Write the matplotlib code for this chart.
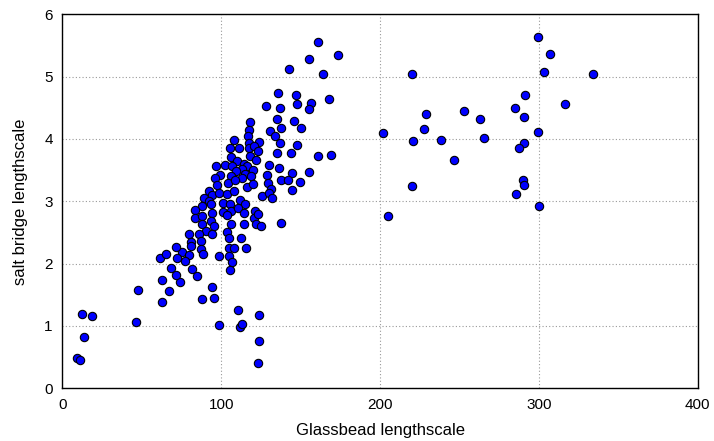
import matplotlib
matplotlib.use("Agg")
import matplotlib.pyplot as plt

# Glassbead lengthscale (x) and salt bridge lengthscale (y)
glassbead = [
    161.1, 173.5, 155.5, 142.9, 163.9, 135.5, 147.1, 168.1, 128.0, 137.2, 147.5, 156.5, 155.1,
    118.1, 135.1, 146.0, 117.5, 130.7, 137.4, 150.0, 116.9, 108.0, 133.6, 117.3, 124.0, 105.3,
    111.0, 136.8, 147.9, 117.7, 120.4, 123.4, 134.9, 144.1, 161.1, 169.3, 105.9, 118.1, 121.9,
    110.1, 114.5, 96.5, 102.2, 106.6, 116.0, 129.9, 136.4, 113.1, 119.8, 109.3, 115.0, 99.0,
    106.1, 129.0, 144.4, 155.5, 96.1, 113.3, 118.7, 129.7, 137.6, 142.3, 149.6, 97.1, 104.5,
    108.9, 116.4, 120.0, 144.8, 131.1, 92.1, 94.2, 98.6, 103.4, 108.2, 125.7, 130.1, 131.8,
    89.4, 92.5, 87.7, 93.3, 101.3, 105.7, 111.8, 115.2, 83.3, 94.2, 101.1, 105.9, 110.3, 114.5,
    121.5, 83.3, 87.7, 103.4, 120.6, 123.4, 88.1, 93.3, 105.9, 114.1, 122.1, 125.0, 137.9,
    90.1, 95.4, 79.9, 86.0, 93.9, 103.4, 104.7, 112.2, 80.9, 87.0, 80.9, 87.5, 104.7, 108.0,
    115.8, 75.3, 79.9, 88.3, 98.8, 104.7, 77.4, 107.0, 105.5, 81.8, 84.5, 74.0, 94.0, 87.7,
    95.7, 110.3, 123.8, 98.4, 111.8, 113.3, 123.8, 123.1,
    71.8, 61.3, 65.1, 72.2, 68.6, 71.4, 62.8, 47.4, 66.8, 62.8, 46.2, 12.4, 18.5, 13.6, 9.2, 10.9,
    299.2, 306.8, 303.4, 333.9, 220.0, 291.0, 316.2, 284.7, 290.8, 252.8, 228.9, 263.1, 227.6,
    299.2, 202.0, 220.9, 238.7, 265.2, 290.6, 287.5, 246.9, 290.2, 290.4, 220.3, 285.8, 300.0,
    205.2,
]
saltbridge = [
    5.55, 5.35, 5.28, 5.13, 5.04, 4.73, 4.71, 4.64, 4.53, 4.50, 4.56, 4.57, 4.48,
    4.28, 4.32, 4.29, 4.15, 4.13, 4.17, 4.17, 4.04, 3.99, 4.04, 3.94, 3.95, 3.86,
    3.86, 3.93, 3.90, 3.85, 3.88, 3.80, 3.77, 3.77, 3.73, 3.74, 3.71, 3.73, 3.67,
    3.65, 3.60, 3.57, 3.58, 3.56, 3.56, 3.59, 3.53, 3.52, 3.51, 3.48, 3.44, 3.42,
    3.41, 3.42, 3.45, 3.47, 3.37, 3.37, 3.41, 3.30, 3.34, 3.35, 3.31, 3.26, 3.29,
    3.35, 3.23, 3.27, 3.18, 3.19, 3.17, 3.10, 3.14, 3.11, 3.16, 3.09, 3.13, 3.05,
    3.06, 3.00, 2.93, 2.95, 2.97, 2.95, 3.02, 2.95, 2.86, 2.82, 2.83, 2.84, 2.89, 2.81,
    2.84, 2.73, 2.77, 2.78, 2.74, 2.80, 2.64, 2.69, 2.64, 2.64, 2.63, 2.61, 2.65,
    2.52, 2.60, 2.47, 2.48, 2.47, 2.51, 2.41, 2.41, 2.34, 2.36, 2.28, 2.23, 2.25, 2.25,
    2.25, 2.18, 2.14, 2.16, 2.13, 2.12, 2.04, 2.02, 1.90, 1.91, 1.80, 1.70, 1.63, 1.43,
    1.45, 1.26, 1.18, 1.02, 0.98, 1.03, 0.76, 0.40,
    2.27, 2.09, 2.15, 2.09, 1.93, 1.81, 1.74, 1.58, 1.56, 1.39, 1.06, 1.19, 1.16, 0.83, 0.49, 0.45,
    5.63, 5.36, 5.07, 5.04, 5.05, 4.71, 4.56, 4.49, 4.36, 4.45, 4.40, 4.32, 4.16,
    4.12, 4.10, 3.96, 3.99, 4.01, 3.94, 3.86, 3.67, 3.35, 3.26, 3.25, 3.12, 2.93,
    2.76,
]
x_ticks = [0, 100, 200, 300, 400]
y_ticks = [0, 1, 2, 3, 4, 5, 6]

plt.rcParams['font.family'] = ['Liberation Sans', 'DejaVu Sans']

fig = plt.figure(figsize=(7.14, 4.41), dpi=100)
ax = fig.add_axes([0.0875, 0.1195, 0.8895, 0.848])

ax.scatter(glassbead, saltbridge, s=36, c='#0000FF', edgecolors='black',
           linewidths=0.8, zorder=3)

ax.set_xlim(0, 400)
ax.set_ylim(0, 6)
ax.set_xticks(x_ticks)
ax.set_yticks(y_ticks)
ax.grid(True, linestyle=(0, (1, 2)), color='#999999', linewidth=0.8)
ax.set_axisbelow(True)
ax.tick_params(direction='in', length=0, labelsize=11, pad=7)
for sp in ax.spines.values():
    sp.set_linewidth(1.0)

ax.set_xlabel('Glassbead lengthscale', fontsize=12, labelpad=8)
ax.set_ylabel('salt bridge lengthscale', fontsize=12, labelpad=12)

fig.savefig('out.png', dpi=100)
